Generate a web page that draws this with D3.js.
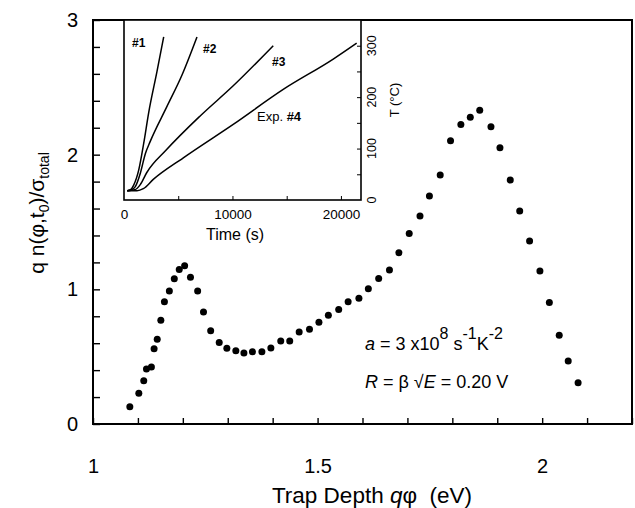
<!DOCTYPE html>
<html><head><meta charset="utf-8">
<script src="https://cdn.jsdelivr.net/npm/d3@7"></script>
<style>body{margin:0;background:#fff} text{font-family:"Liberation Sans",Arial,Helvetica,sans-serif;fill:#000}</style>
</head><body><svg id="c" width="635" height="508"></svg>
<script>
// ---- main data ----
const trapDepth = [1.082,1.102,1.113,1.119,1.130,1.136,1.143,1.151,1.159,1.170,1.181,1.192,1.204,1.217,1.233,1.246,1.262,1.281,1.298,1.318,1.336,1.355,1.376,1.396,1.418,1.438,1.459,1.482,1.503,1.524,1.547,1.568,1.592,1.613,1.636,1.660,1.681,1.704,1.728,1.749,1.773,1.796,1.819,1.840,1.861,1.886,1.906,1.929,1.950,1.972,1.995,2.016,2.038,2.058,2.080];
const density   = [0.128,0.228,0.322,0.408,0.423,0.559,0.629,0.770,0.908,0.987,1.079,1.148,1.175,1.089,0.987,0.831,0.693,0.606,0.562,0.544,0.527,0.537,0.537,0.564,0.616,0.616,0.683,0.703,0.755,0.807,0.851,0.908,0.933,1.005,1.080,1.143,1.272,1.415,1.544,1.693,1.849,2.103,2.224,2.277,2.329,2.207,2.052,1.811,1.581,1.359,1.136,0.903,0.659,0.468,0.307];
const xTickLabels = [1, 1.5, 2];
const yTickLabels = [0, 1, 2, 3];

// ---- inset data (time s, temperature °C) ----
const time1 = [300,600,894,1355,1816,2277,3043,3660];
const temp1 = [18,20,29,58,110,170,250,317];
const time2 = [300,700,1045,1505,1966,2400,3940,5348,6730];
const temp2 = [18,20,26,52,90,113,181,243,317];
const time3 = [300,1000,1500,2090,3930,7000,10070,13760];
const temp3 = [18,20,30,53,98,163,222,300];
const time4 = [300,1200,1780,2700,5470,10070,14680,19290,21450];
const temp4 = [18,18,22,40,82,147,215,274,305];
const insetXTickLabels = [0, 10000, 20000];
const insetYTickLabels = [0, 100, 200, 300];
const curveLabels = ["#1", "#2", "#3", "#4"];

const svg = d3.select("#c");
const x = d3.scaleLinear().domain([1, 2.2]).range([93, 632]);
const y = d3.scaleLinear().domain([0, 3]).range([424, 20]);

// main frame
svg.append("rect").attr("x",93).attr("y",20).attr("width",632-93).attr("height",424-20)
  .attr("fill","none").attr("stroke","#000").attr("stroke-width",2);

// minor ticks (inward)
const gx = svg.append("g").attr("transform","translate(0,424)")
  .call(d3.axisBottom(x).tickValues(d3.range(0,13).map(i=>1+i*0.1)).tickSize(-6).tickFormat(""));
gx.select(".domain").remove();
gx.selectAll("line").attr("stroke-width",1.4);
const gy = svg.append("g").attr("transform","translate(93,0)")
  .call(d3.axisLeft(y).tickValues(d3.range(0,16).map(i=>i*0.2)).tickSize(-7).tickFormat(""));
gy.select(".domain").remove();
gy.selectAll("line").attr("stroke-width",1.4);

// tick labels
const lx = svg.append("g").attr("transform","translate(0,424)")
  .call(d3.axisBottom(x).tickValues(xTickLabels).tickSize(0).tickPadding(35).tickFormat(d3.format("")));
lx.select(".domain").remove();
lx.selectAll("text").attr("font-size",20).attr("font-family","Liberation Sans, Arial, sans-serif");
const ly = svg.append("g").attr("transform","translate(93,0)")
  .call(d3.axisLeft(y).tickValues(yTickLabels).tickSize(0).tickPadding(15).tickFormat(d3.format("d")));
ly.select(".domain").remove();
ly.selectAll("text").attr("font-size",20).attr("font-family","Liberation Sans, Arial, sans-serif");

// axis titles
const xt = svg.append("text").attr("x",372).attr("y",503).attr("text-anchor","middle").attr("font-size",22.5);
xt.append("tspan").text("Trap Depth ");
xt.append("tspan").attr("font-style","italic").text("q");
xt.append("tspan").text("\u03C6\u00A0\u00A0(eV)");

const yt = svg.append("text").attr("transform","translate(44,213) rotate(-90)").attr("text-anchor","middle").attr("font-size",21);
yt.append("tspan").text("q n(\u03C6,t");
yt.append("tspan").attr("font-size",14).attr("dy",5).text("0");
yt.append("tspan").attr("dy",-5).text(")/\u03C3");
yt.append("tspan").attr("font-size",14).attr("dy",5).text("total");

// points
svg.append("g").selectAll("circle").data(trapDepth).join("circle")
  .attr("cx",(d)=>x(d)).attr("cy",(d,i)=>y(density[i])).attr("r",3.5).attr("fill","#000");

// annotations
const a1 = svg.append("text").attr("x",365).attr("y",350).attr("font-size",18);
a1.append("tspan").attr("font-style","italic").text("a");
a1.append("tspan").text(" = 3 x10");
a1.append("tspan").attr("dy",-11).attr("font-size",16).text("8");
a1.append("tspan").attr("dy",11).text(" s");
a1.append("tspan").attr("dy",-11).attr("font-size",16).text("-1");
a1.append("tspan").attr("dy",11).text("K");
a1.append("tspan").attr("dy",-11).attr("font-size",16).text("-2");
const a2 = svg.append("text").attr("x",365).attr("y",388).attr("font-size",18);
a2.append("tspan").attr("font-style","italic").text("R");
a2.append("tspan").text(" = \u03B2 \u221A");
a2.append("tspan").attr("font-style","italic").text("E");
a2.append("tspan").text(" = 0.20 V");

// ---- inset ----
const ix = d3.scaleLinear().domain([0, 21850]).range([124, 361]);
const iy = d3.scaleLinear().domain([0, 350]).range([200, 20]);
svg.append("rect").attr("x",124).attr("y",20).attr("width",361-124).attr("height",200-20)
  .attr("fill","#fff").attr("stroke","#000").attr("stroke-width",1.6);
const igx = svg.append("g").attr("transform","translate(0,200)")
  .call(d3.axisBottom(ix).tickValues([5000,10000,15000,20000]).tickSize(-4).tickFormat(""));
igx.select(".domain").remove();
const igy = svg.append("g").attr("transform","translate(361,0)")
  .call(d3.axisRight(iy).tickValues([50,100,150,200,250,300]).tickSize(-4).tickFormat(""));
igy.select(".domain").remove();

const ilx = svg.append("g").attr("transform","translate(0,200)")
  .call(d3.axisBottom(ix).tickValues(insetXTickLabels).tickSize(0).tickPadding(9).tickFormat(d3.format("d")));
ilx.select(".domain").remove();
ilx.selectAll("text").attr("font-size",13.5).attr("font-family","Liberation Sans, Arial, sans-serif");
svg.append("g").selectAll("text").data(insetYTickLabels).join("text")
  .attr("transform",d=>`translate(376,${iy(d)}) rotate(-90)`).attr("text-anchor","middle")
  .attr("font-size",12.5).text(d=>d);
svg.append("text").attr("x",235).attr("y",240).attr("text-anchor","middle").attr("font-size",16).text("Time (s)");
svg.append("text").attr("transform","translate(399,100) rotate(-90)").attr("text-anchor","middle")
  .attr("font-size",13).text("T (\u00B0C)");

const line = d3.line().x(d=>ix(d[0])).y(d=>iy(d[1])).curve(d3.curveMonotoneX);
[[time1,temp1],[time2,temp2],[time3,temp3],[time4,temp4]].forEach(([t,T])=>{
  svg.append("path").attr("d",line(t.map((v,i)=>[v,T[i]]))).attr("fill","none")
    .attr("stroke","#000").attr("stroke-width",1.5);
});
svg.append("text").attr("x",132).attr("y",46.7).attr("font-size",12).attr("font-weight","bold").text(curveLabels[0]);
svg.append("text").attr("x",203).attr("y",52.7).attr("font-size",12).attr("font-weight","bold").text(curveLabels[1]);
svg.append("text").attr("x",272).attr("y",66).attr("font-size",12).attr("font-weight","bold").text(curveLabels[2]);
const e4 = svg.append("text").attr("x",257).attr("y",120.7).attr("font-size",13);
e4.append("tspan").text("Exp. ");
e4.append("tspan").attr("font-weight","bold").text(curveLabels[3]);
</script></body></html>
